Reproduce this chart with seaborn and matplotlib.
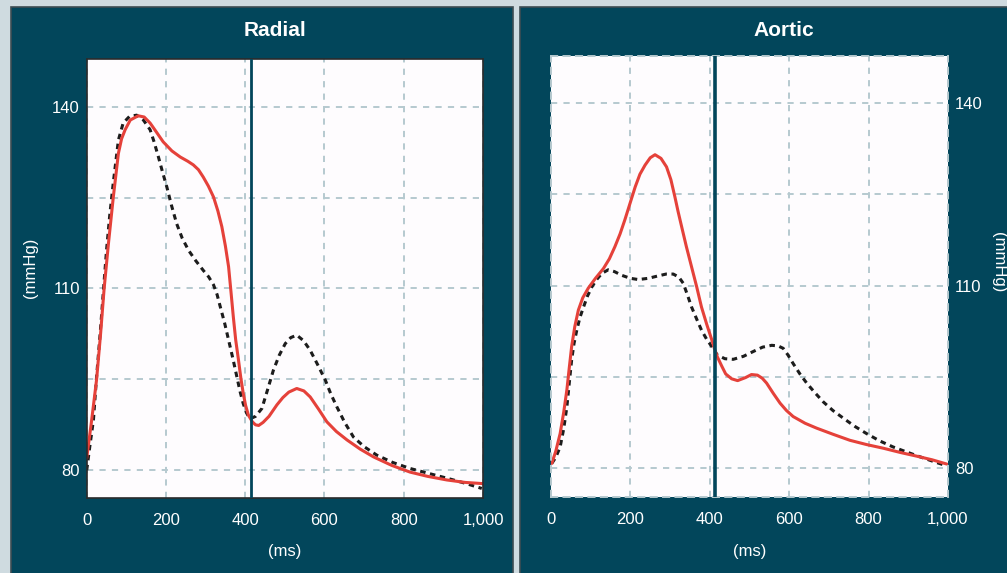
import matplotlib
matplotlib.use("Agg")
import matplotlib.pyplot as plt
from matplotlib.patches import Rectangle
from matplotlib.ticker import StrMethodFormatter
import seaborn as sns

# ---- data -------------------------------------------------------------
# Radial pressure waveform (ms, mmHg)
radial_measured_t = [0, 12, 25, 35, 44, 55, 67, 80, 88, 97, 110, 130, 145, 160, 175,
                     193, 215, 236, 255, 269, 282, 294, 307, 320, 331, 341, 350, 358,
                     364, 370, 376, 383, 389, 395, 401, 408, 418, 426, 434, 445, 460,
                     480, 495, 510, 530, 548, 564, 585, 606, 630, 657, 690, 724, 770,
                     816, 860, 909, 955, 1000]
radial_measured_p = [82.0, 88.0, 95.0, 102.5, 110.0, 117.5, 125.0, 132.3, 134.7, 136.2,
                     137.8, 138.5, 138.3, 137.3, 135.9, 134.2, 132.7, 131.7, 131.0,
                     130.4, 129.6, 128.4, 126.9, 125.1, 122.8, 120.2, 117.0, 113.6,
                     109.5, 105.3, 101.5, 98.2, 95.2, 92.7, 90.7, 89.1, 88.0, 87.5,
                     87.4, 87.9, 88.9, 90.8, 92.0, 92.9, 93.5, 93.1, 92.1, 90.1, 88.0,
                     86.4, 85.0, 83.5, 82.2, 80.8, 79.7, 79.0, 78.4, 78.0, 77.8]
radial_model_t = [0, 8, 17, 25, 34, 42, 50, 58, 67, 80, 92, 108, 126, 143, 160, 170,
                  181, 191, 202, 214, 227, 241, 257, 275, 294, 308, 320, 329, 337, 348,
                  358, 369, 379, 387, 395, 403, 412, 426, 442, 456, 471, 486, 501, 515,
                  530, 547, 564, 583, 602, 616, 631, 651, 673, 700, 732, 772, 816, 862,
                  909, 953, 997]
radial_model_p = [80.0, 84.0, 88.3, 95.5, 102.6, 109.5, 116.3, 122.0, 127.4, 134.5,
                  137.3, 138.4, 138.6, 137.8, 136.2, 134.2, 131.7, 129.3, 126.8, 123.7,
                  120.7, 118.3, 116.3, 114.6, 113.0, 111.9, 110.6, 109.0, 107.0, 104.3,
                  101.5, 98.4, 95.4, 93.0, 91.0, 89.5, 88.5, 88.9, 90.2, 93.2, 96.5,
                  99.0, 100.9, 101.9, 102.3, 101.4, 99.8, 97.4, 94.9, 92.6, 90.5, 87.9,
                  85.5, 83.9, 82.5, 81.3, 80.3, 79.5, 78.7, 77.9, 77.0]

# Aortic pressure waveform (ms, mmHg)
aortic_measured_t = [2, 12, 23, 32, 40, 46, 52, 60, 69, 80, 94, 112, 132, 147, 161, 174,
                     186, 199, 212, 224, 237, 250, 262, 277, 291, 302, 312, 320, 329,
                     341, 354, 367, 379, 392, 405, 412, 419, 430, 440, 455, 470, 490,
                     505, 520, 532, 543, 560, 577, 593, 610, 640, 669, 710, 753, 795,
                     837, 880, 921, 960, 997]
aortic_measured_p = [80.8, 82.8, 85.7, 89.2, 92.9, 96.5, 100.0, 103.3, 106.0, 108.0,
                     109.6, 111.2, 112.8, 114.4, 116.4, 118.5, 120.8, 123.5, 126.2,
                     128.3, 129.8, 131.0, 131.5, 130.9, 129.5, 127.4, 124.6, 122.2,
                     119.7, 116.4, 113.1, 109.8, 106.5, 103.7, 101.1, 99.6, 98.3, 96.8,
                     95.5, 94.7, 94.4, 94.9, 95.4, 95.3, 94.8, 94.0, 92.3, 90.7, 89.5,
                     88.5, 87.4, 86.6, 85.6, 84.6, 83.9, 83.3, 82.6, 82.0, 81.4, 80.7]
aortic_model_t = [2, 12, 23, 32, 40, 46, 52, 58, 65, 73, 82, 92, 103, 115, 128, 144,
                  160, 178, 200, 220, 245, 270, 290, 308, 322, 333, 343, 354, 367, 379,
                  392, 405, 419, 438, 459, 485, 510, 533, 556, 572, 585, 597, 610, 627,
                  644, 665, 686, 710, 737, 765, 795, 828, 862, 895, 929, 960, 992]
aortic_model_p = [80.8, 81.8, 83.5, 86.5, 90.1, 94.0, 97.8, 100.5, 102.7, 104.8, 106.5,
                  108.3, 109.8, 111.0, 112.0, 112.6, 112.3, 111.7, 111.2, 111.0, 111.2,
                  111.6, 111.9, 111.9, 111.4, 110.4, 108.6, 106.5, 104.5, 102.7, 101.2,
                  100.0, 98.6, 98.0, 97.9, 98.4, 99.2, 99.9, 100.2, 100.1, 99.7, 98.6,
                  97.2, 95.5, 94.0, 92.4, 90.9, 89.5, 88.2, 86.9, 85.7, 84.5, 83.5,
                  82.7, 81.9, 81.2, 80.5]

marker_ms = 414
x_ticks = [0, 200, 400, 600, 800, 1000]
y_ticks = [80, 95, 110, 125, 140]
y_tick_labels = ["80", "", "110", "", "140"]
panel_titles = ["Radial", "Aortic"]

# ---- style -------------------------------------------------------------
W, H = 1007, 573
sns.set_theme(style="white")
plt.rcParams["font.family"] = ["Liberation Sans", "DejaVu Sans"]

BG = "#cfdbe0"
PANEL = "#02465b"
GRID = "#b6c9cf"
RED = "#e5413a"
DASH = "#1c1c1c"
WHITE = "#ffffff"

fig = plt.figure(figsize=(W / 100, H / 100), dpi=100, facecolor=BG)


def fx(px):
    return px / W


def fy(py):
    return 1 - py / H


# dark panels behind each chart
for x0, x1 in [(11, 513), (520, 1012)]:
    fig.patches.append(Rectangle((fx(x0), fy(580)), fx(x1 - x0), (580 - 7) / H,
                                 transform=fig.transFigure, facecolor=PANEL,
                                 edgecolor="#3d4d53", linewidth=1.2, zorder=-5))

ax_r = fig.add_axes([fx(86.7), fy(497.5), fx(483 - 86.7), (497.5 - 58.7) / H])
ax_a = fig.add_axes([fx(551), fy(497), fx(948 - 551), (497 - 56) / H])

grid_ls = (0, (3.2, 3.2))

datasets = [
    (ax_r, radial_model_t, radial_model_p, radial_measured_t, radial_measured_p,
     (75.51, 147.92)),
    (ax_a, aortic_model_t, aortic_model_p, aortic_measured_t, aortic_measured_p,
     (75.29, 147.71)),
]

for ax, mt, mp, st, sp, ylim in datasets:
    ax.set_zorder(2)
    ax.set_facecolor("#fefcfe")
    sns.lineplot(x=mt, y=mp, ax=ax, color=DASH, linewidth=2.2, estimator=None,
                 sort=False)
    dashed = ax.lines[-1]
    dashed.set_linestyle((0, (1.8, 1.5)))
    dashed.set_dash_capstyle("butt")
    sns.lineplot(x=st, y=sp, ax=ax, color=RED, linewidth=2.2, estimator=None,
                 sort=False)
    ax.lines[-1].set_solid_joinstyle("round")
    ax.lines[-1].set_solid_capstyle("round")
    ax.axvline(marker_ms, color=PANEL, linewidth=2.0 if ax is ax_r else 2.6,
               zorder=5)
    ax.set_xlim(0, 1000)
    ax.set_ylim(*ylim)
    ax.set_xticks(x_ticks)
    ax.set_yticks(y_ticks)
    ax.set_yticklabels(y_tick_labels)
    ax.xaxis.set_major_formatter(StrMethodFormatter("{x:,.0f}"))
    ax.grid(True, color=GRID, linestyle=grid_ls, linewidth=1.4)
    ax.tick_params(axis="both", length=0, labelsize=12, labelcolor=WHITE)
    ax.tick_params(axis="x", pad=11)
    ax.set_xlabel("(ms)", fontsize=12, color=WHITE)
    ax.xaxis.set_label_coords(0.5, -0.124)
    ax.xaxis.label.set_va("center")

# radial: solid frame, labels on the left
for s in ax_r.spines.values():
    s.set_color("#2b2b2b")
    s.set_linewidth(1.2)
ax_r.tick_params(axis="y", pad=5)
ax_r.set_ylabel("(mmHg)", fontsize=12, color=WHITE)
ax_r.yaxis.set_label_coords(-0.143, 0.523)
ax_r.yaxis.label.set_va("center")

# aortic: dashed frame, labels on the right
for s in ax_a.spines.values():
    s.set_color(GRID)
    s.set_linestyle(grid_ls)
    s.set_linewidth(1.4)
ax_a.yaxis.tick_right()
ax_a.yaxis.set_label_position("right")
ax_a.tick_params(axis="y", pad=5)
ax_a.set_ylabel("(mmHg)", fontsize=12, color=WHITE, rotation=-90)
ax_a.yaxis.set_label_coords(1.126, 0.533)
ax_a.yaxis.label.set_va("center")

fig.text(fx(275), fy(30), panel_titles[0], color=WHITE, fontsize=15,
         fontweight="bold", ha="center", va="center")
fig.text(fx(784), fy(30), panel_titles[1], color=WHITE, fontsize=15,
         fontweight="bold", ha="center", va="center")

fig.savefig("out.png", dpi=100, facecolor=BG)
